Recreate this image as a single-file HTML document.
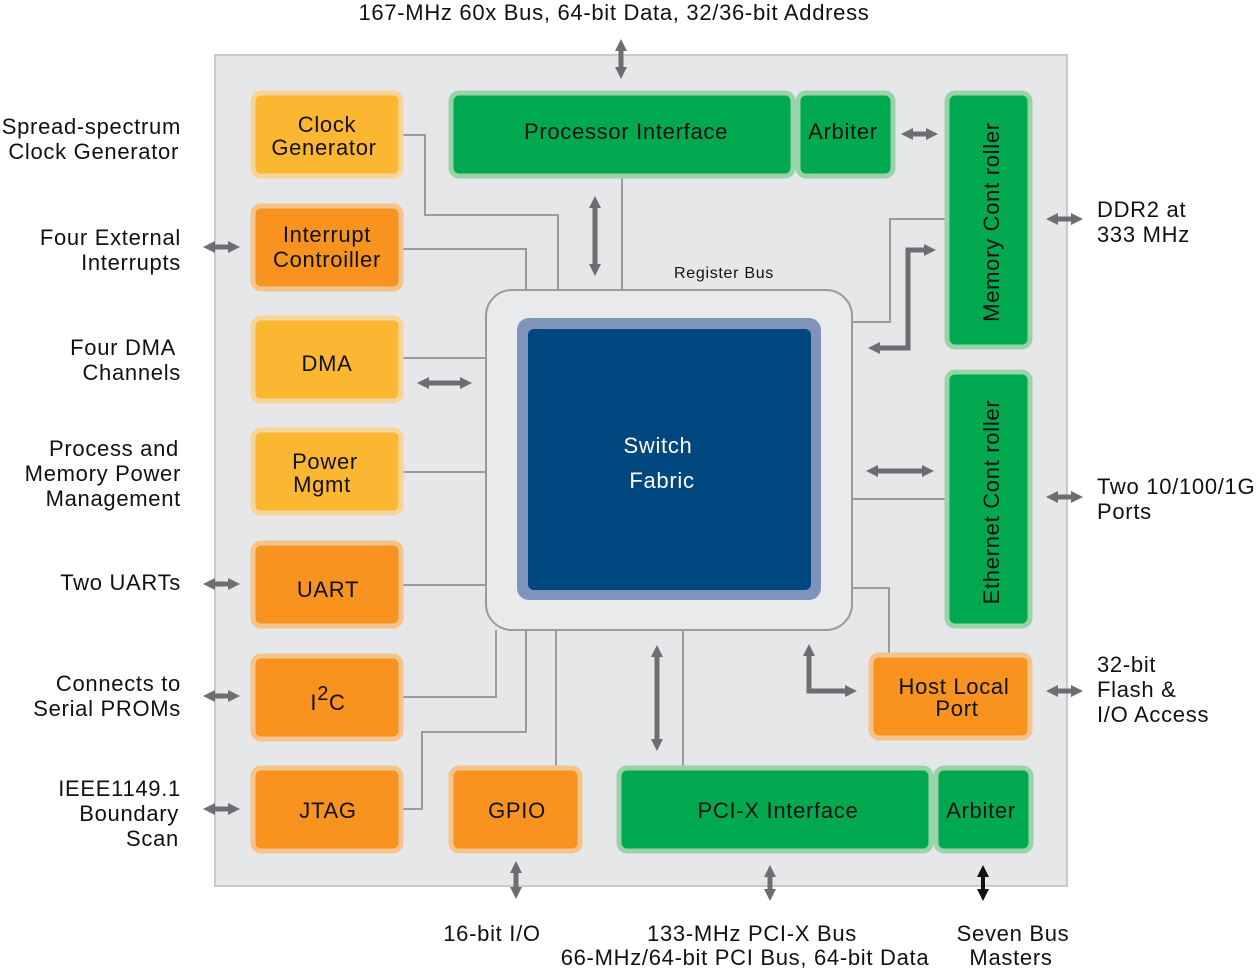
<!DOCTYPE html>
<html><head><meta charset="utf-8"><style>
html,body{margin:0;padding:0;background:#fff;}
svg{display:block;}
text{font-family:"Liberation Sans",Arial,sans-serif;fill:#111;}
.t{letter-spacing:0.7px;}
</style></head><body>
<svg width="1256" height="972" viewBox="0 0 1256 972" xmlns="http://www.w3.org/2000/svg">
<defs>
<marker id="ah" markerUnits="userSpaceOnUse" markerWidth="14" markerHeight="14" refX="3" refY="7" orient="auto-start-reverse" viewBox="0 0 14 14">
<path d="M0,1 L12,7 L0,13 Z" fill="#6d6e71"/></marker>
<marker id="ahk" markerUnits="userSpaceOnUse" markerWidth="14" markerHeight="14" refX="3" refY="7" orient="auto-start-reverse" viewBox="0 0 14 14">
<path d="M0,1 L12,7 L0,13 Z" fill="#111"/></marker>
</defs>
<rect x="215" y="55" width="852" height="831" fill="#e6e7e8" stroke="#c9cacb" stroke-width="2"/>

<g fill="none" stroke="#9a9b9d" stroke-width="2">
<path d="M403,135 H425 V215 H558 V290"/>
<path d="M403,249 H526 V290"/>
<path d="M622,178 V290"/>
<path d="M403,358 H486"/>
<path d="M403,472 H486"/>
<path d="M403,585 H486"/>
<path d="M403,697 H496 V630"/>
<path d="M403,809 H422 V732 H526 V630"/>
<path d="M556,766 V630"/>
<path d="M683,766 V630"/>
<path d="M852,588 H889 V653"/>
<path d="M852,322 H890 V219 H945"/>
<path d="M852,499 H945"/>
</g>

<rect x="486" y="290" width="366" height="340" rx="26" fill="#e9eaeb" stroke="#9a9b9d" stroke-width="2"/>
<text x="724" y="278" font-size="16" text-anchor="middle" class="t">Register Bus</text>
<rect x="517" y="318" width="304" height="282" rx="12" fill="#7f93bb"/>
<rect x="528" y="329" width="283" height="261" rx="6" fill="#00467f"/>
<text x="658" y="453" font-size="22" text-anchor="middle" class="t" style="fill:#fff">Switch</text>
<text x="662" y="488" font-size="22" text-anchor="middle" class="t" style="fill:#fff">Fabric</text>

<g stroke-width="5">
<rect x="253" y="93" width="148" height="83" rx="8" fill="#fbb731" stroke="#f7d49a"/>
<rect x="253" y="206" width="148" height="83" rx="8" fill="#f7931e" stroke="#f5c48d"/>
<rect x="253" y="318" width="148" height="83" rx="8" fill="#fbb731" stroke="#f7d49a"/>
<rect x="253" y="430" width="148" height="83" rx="8" fill="#fbb731" stroke="#f7d49a"/>
<rect x="253" y="543" width="148" height="83" rx="8" fill="#f7931e" stroke="#f5c48d"/>
<rect x="253" y="656" width="148" height="83" rx="8" fill="#f7931e" stroke="#f5c48d"/>
<rect x="253" y="768" width="148" height="83" rx="8" fill="#f7931e" stroke="#f5c48d"/>
<rect x="451" y="768" width="129" height="83" rx="8" fill="#f7931e" stroke="#f5c48d"/>
<rect x="871" y="655" width="159" height="83" rx="8" fill="#f7931e" stroke="#f5c48d"/>
<rect x="451" y="93" width="342" height="83" rx="8" fill="#00a94f" stroke="#99d3a9"/>
<rect x="798" y="93" width="95" height="83" rx="8" fill="#00a94f" stroke="#99d3a9"/>
<rect x="947" y="93" width="83" height="254" rx="8" fill="#00a94f" stroke="#99d3a9"/>
<rect x="947" y="372" width="83" height="254" rx="8" fill="#00a94f" stroke="#99d3a9"/>
<rect x="619" y="768" width="312" height="83" rx="8" fill="#00a94f" stroke="#99d3a9"/>
<rect x="936" y="768" width="95" height="83" rx="8" fill="#00a94f" stroke="#99d3a9"/>
</g>

<g font-size="22" text-anchor="middle" class="t">
<text x="327" y="132">Clock</text><text x="324" y="155">Generator</text>
<text x="327" y="242">Interrupt</text><text x="327" y="267">Controiller</text>
<text x="327" y="371">DMA</text>
<text x="325" y="469">Power</text><text x="322" y="492">Mgmt</text>
<text x="328" y="597">UART</text>
<text x="328" y="710">I<tspan dy="-10" font-size="20">2</tspan><tspan dy="10">C</tspan></text>
<text x="328" y="818">JTAG</text>
<text x="517" y="818">GPIO</text>
<text x="954" y="694">Host Local</text><text x="957" y="716">Port</text>
<text x="626" y="139">Processor Interface</text>
<text x="843" y="139">Arbiter</text>
<text x="778" y="818">PCI-X Interface</text>
<text x="981" y="818">Arbiter</text>
<text transform="translate(999,222) rotate(-90)">Memory Cont roller</text>
<text transform="translate(999,502) rotate(-90)">Ethernet Cont roller</text>
</g>

<g fill="none" stroke="#6d6e71" stroke-width="5" marker-start="url(#ah)" marker-end="url(#ah)">
<path d="M621,48 V70"/>
<path d="M595,205 V267"/>
<path d="M910,134 H929"/>
<path d="M426,383 H463"/>
<path d="M875,471 H925"/>
<path d="M657,654 V742"/>
<path d="M516,870 V890"/>
<path d="M770,874 V892"/>
<path d="M212,247 H231"/><path d="M212,584 H231"/><path d="M212,696 H231"/><path d="M212,809 H231"/>
<path d="M1055,219 H1074"/><path d="M1055,497 H1074"/><path d="M1055,691 H1074"/>
</g>
<path d="M927,250 H908 V348 H877" fill="none" stroke="#6d6e71" stroke-width="5" marker-start="url(#ah)" marker-end="url(#ah)"/>
<path d="M809,653 V691 H848" fill="none" stroke="#6d6e71" stroke-width="5" marker-start="url(#ah)" marker-end="url(#ah)"/>
<path d="M983,874 V892" fill="none" stroke="#111" stroke-width="4" marker-start="url(#ahk)" marker-end="url(#ahk)"/>

<g font-size="22" class="t">
<text x="614" y="20" text-anchor="middle">167-MHz 60x Bus, 64-bit Data, 32/36-bit Address</text>
<g text-anchor="end">
<text x="181" y="134">Spread-spectrum</text><text x="179" y="159">Clock Generator</text>
<text x="181" y="245">Four External</text><text x="181" y="270">Interrupts</text>
<text x="176" y="355">Four DMA</text><text x="181" y="380">Channels</text>
<text x="179" y="456">Process and</text><text x="181" y="481">Memory Power</text><text x="181" y="506">Management</text>
<text x="181" y="590">Two UARTs</text>
<text x="181" y="691">Connects to</text><text x="181" y="716">Serial PROMs</text>
<text x="181" y="796">IEEE1149.1</text><text x="179" y="821">Boundary</text><text x="179" y="846">Scan</text>
</g>
<text x="1097" y="217">DDR2 at</text><text x="1097" y="242">333 MHz</text>
<text x="1097" y="494">Two 10/100/1G</text><text x="1097" y="519">Ports</text>
<text x="1097" y="672">32-bit</text><text x="1097" y="697">Flash &amp;</text><text x="1097" y="722">I/O Access</text>
<g text-anchor="middle">
<text x="492" y="941">16-bit I/O</text>
<text x="752" y="941">133-MHz PCI-X Bus</text>
<text x="745" y="965">66-MHz/64-bit PCI Bus, 64-bit Data</text>
<text x="1013" y="941">Seven Bus</text>
<text x="1011" y="965">Masters</text>
</g>
</g>
</svg>
</body></html>
